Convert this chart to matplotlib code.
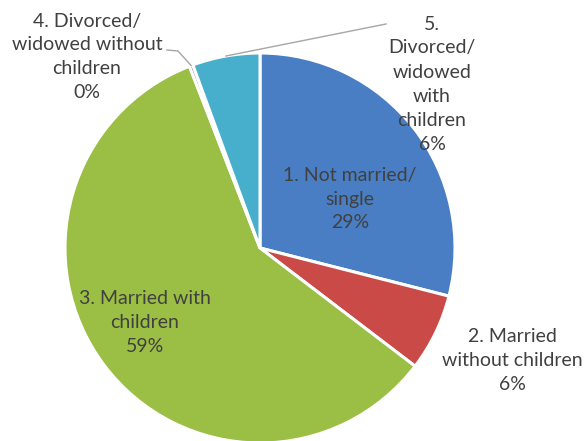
import matplotlib
matplotlib.use("Agg")
import matplotlib.pyplot as plt
import numpy as np

categories = ["1. Not married/\nsingle",
              "2. Married\nwithout children",
              "3. Married with\nchildren",
              "4. Divorced/\nwidowed without\nchildren",
              "5.\nDivorced/\nwidowed\nwith\nchildren"]
values = [29.0, 6.4, 58.8, 0.3, 5.6]
colors = ["#4A7EC4", "#C94A46", "#9BBE45", "#8064A2", "#47AECB"]

plt.rcParams['font.family'] = ['Lato', 'DejaVu Sans']

W, H = 588, 441
fig = plt.figure(figsize=(W / 100, H / 100), dpi=100)
cx, cy, R = 260, 248, 195
ax = fig.add_axes([(cx - R) / W, (H - cy - R) / H, 2 * R / W, 2 * R / H])
wedges, _ = ax.pie(values, colors=colors, startangle=90, counterclock=False,
                   radius=1.0, wedgeprops=dict(edgecolor="white", linewidth=2.2))
ax.set_xlim(-1, 1)
ax.set_ylim(-1, 1)
ax.set_aspect("equal")
ax.axis("off")

def px(x, y):
    return ((x - cx) / R, (cy - y) / R)

label_pos = [px(350, 199), px(512, 361), px(145, 322), px(87, 57), px(432, 84)]
txt_color = "#404040"
for i, (name, v) in enumerate(zip(categories, values)):
    s = f"{name}\n{round(v)}%"
    x, y = label_pos[i]
    ax.text(x, y, s, ha="center", va="center", fontsize=14, color=txt_color,
            linespacing=1.5, clip_on=False)

def mid_point(w, r=1.0):
    ang = np.deg2rad((w.theta1 + w.theta2) / 2)
    return r * np.cos(ang), r * np.sin(ang)

# leader for label 4
m4 = mid_point(wedges[3])
p1 = px(167, 50)
p2 = px(178, 51)
ax.plot([p1[0], p2[0], m4[0]], [p1[1], p2[1], m4[1]], color="#A6A6A6", lw=1.0, clip_on=False)
# leader for label 5
m5 = mid_point(wedges[4])
q1 = px(386, 24)
ax.plot([q1[0], m5[0]], [q1[1], m5[1]], color="#A6A6A6", lw=1.0, clip_on=False)

fig.savefig("out.png", dpi=100)
